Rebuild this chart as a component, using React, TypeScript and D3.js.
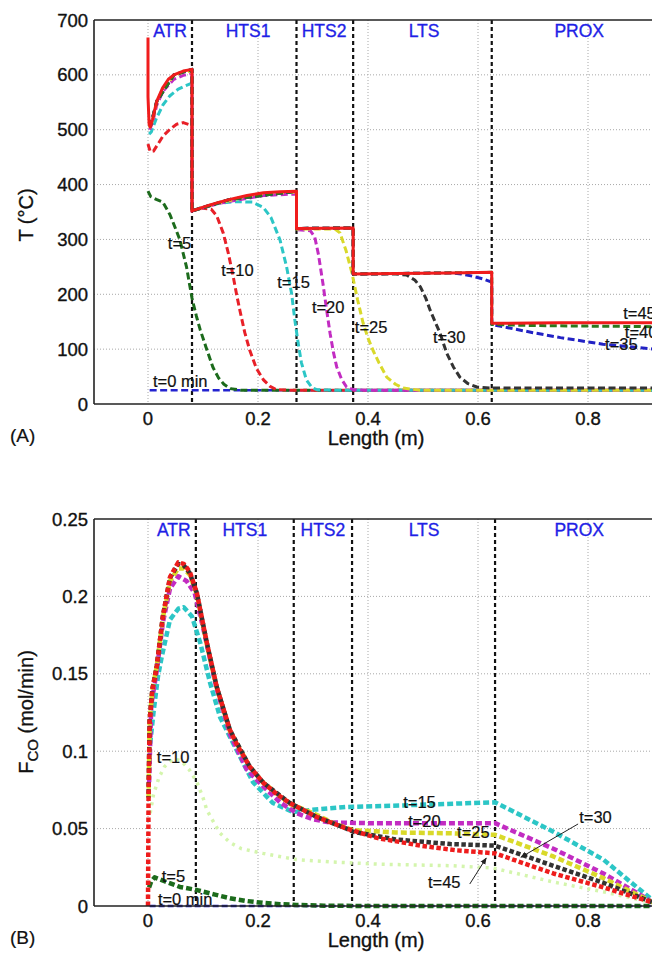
import React from "react";
import * as d3 from "d3";

type Pt = [number, number];

const W = 652;
const H = 954;
const FONT = "'Liberation Sans', Arial, Helvetica, sans-serif";

const xTicks = [0, 0.2, 0.4, 0.6, 0.8];
const xTickLabels = ["0", "0.2", "0.4", "0.6", "0.8"];
const tTicks = [0, 100, 200, 300, 400, 500, 600, 700];
const tTickLabels = ["0", "100", "200", "300", "400", "500", "600", "700"];
const fTicks = [0, 0.05, 0.1, 0.15, 0.2, 0.25];
const fTickLabels = ["0", "0.05", "0.1", "0.15", "0.2", "0.25"];

const zones = ["ATR", "HTS1", "HTS2", "LTS", "PROX"];
const zoneCentersT = [0.04, 0.182, 0.32, 0.502, 0.784];
const zoneCentersF = [0.047, 0.176, 0.318, 0.502, 0.784];
const zoneBoundsT = [0.08, 0.27, 0.373, 0.625];
const zoneBoundsF = [0.087, 0.265, 0.371, 0.631];

// ---------- Temperature profiles (°C) ----------
const T0: Pt[] = [[0.003, 25], [0.92, 25]];
const T5: Pt[] = [[0, 388], [0.005, 378], [0.015, 373], [0.027, 368], [0.04, 345], [0.05, 320], [0.058, 299], [0.07, 250], [0.08, 193], [0.088, 160], [0.095, 135], [0.105, 105], [0.118, 67], [0.128, 48], [0.138, 36], [0.15, 28], [0.17, 25], [0.92, 25]];
const T10: Pt[] = [[0, 474], [0.004, 460], [0.01, 461], [0.027, 488], [0.04, 501], [0.052, 510], [0.064, 513], [0.076, 509], [0.08, 508], [0.08, 352], [0.1, 357], [0.115, 355], [0.125, 343], [0.137, 311], [0.146, 275], [0.155, 232], [0.161, 200], [0.167, 171], [0.176, 130], [0.185, 98], [0.197, 65], [0.21, 44], [0.222, 32], [0.234, 26], [0.26, 25], [0.92, 25]];
const T15: Pt[] = [[0.002, 492], [0.006, 496], [0.015, 520], [0.027, 545], [0.04, 562], [0.055, 574], [0.068, 580], [0.08, 585], [0.08, 352], [0.1, 359], [0.13, 366], [0.16, 369], [0.19, 368], [0.21, 358], [0.2236, 340], [0.24, 299], [0.252, 250], [0.261, 202], [0.267, 153], [0.273, 111], [0.279, 75], [0.288, 44], [0.298, 30], [0.307, 26], [0.35, 25], [0.92, 25]];
const T20: Pt[] = [[0.003, 500], [0.008, 512], [0.016, 545], [0.027, 570], [0.047, 592], [0.064, 599], [0.08, 603], [0.08, 352], [0.13, 366], [0.21, 380], [0.27, 383], [0.27, 318], [0.295, 316], [0.303, 305], [0.31, 272], [0.318, 220], [0.325, 170], [0.331, 129], [0.337, 95], [0.343, 68], [0.352, 45], [0.361, 31], [0.373, 26], [0.4, 25], [0.92, 25]];
const T25: Pt[] = [[0.003, 503], [0.008, 516], [0.016, 550], [0.027, 575], [0.047, 598], [0.064, 605], [0.08, 607], [0.08, 352], [0.13, 367], [0.21, 384], [0.27, 386], [0.27, 319], [0.34, 319], [0.349, 312], [0.36, 280], [0.371, 238], [0.381, 190], [0.391, 148], [0.4, 120], [0.409, 98], [0.42, 75], [0.434, 49], [0.45, 36], [0.464, 29], [0.495, 25], [0.92, 25]];
const T30: Pt[] = [[0.004, 505], [0.016, 552], [0.047, 600], [0.08, 610], [0.08, 352], [0.149, 373], [0.27, 388], [0.27, 320], [0.373, 321], [0.373, 237], [0.45, 237], [0.47, 235], [0.485, 226], [0.495, 214], [0.505, 193], [0.513, 171], [0.522, 150], [0.531, 129], [0.543, 93], [0.555, 68], [0.567, 49], [0.582, 37], [0.598, 31], [0.625, 29], [0.92, 29]];
const T35: Pt[] = [[0.004, 505], [0.016, 552], [0.047, 600], [0.08, 610], [0.08, 352], [0.149, 373], [0.27, 388], [0.27, 320], [0.373, 321], [0.373, 237], [0.55, 239], [0.57, 237], [0.59, 233], [0.609, 228], [0.625, 222], [0.625, 145], [0.7, 130], [0.75, 121], [0.827, 109], [0.92, 100]];
const T40: Pt[] = [[0.004, 505], [0.016, 552], [0.047, 600], [0.08, 610], [0.08, 352], [0.149, 373], [0.27, 388], [0.27, 320], [0.373, 321], [0.373, 237], [0.625, 240], [0.625, 145], [0.7, 143], [0.8, 142], [0.92, 141]];
const T45: Pt[] = [[0, 668], [0, 560], [0.002, 510], [0.004, 505], [0.008, 518], [0.016, 552], [0.027, 577], [0.037, 592], [0.047, 600], [0.064, 607], [0.08, 610], [0.08, 352], [0.095, 357], [0.11, 362], [0.13, 368], [0.149, 373], [0.18, 380], [0.21, 385], [0.24, 387], [0.27, 388], [0.27, 320], [0.373, 321], [0.373, 237], [0.45, 238], [0.55, 239], [0.625, 240], [0.625, 147], [0.75, 148], [0.92, 148]];

// ---------- CO molar flow (mol/min) ----------
const F0: Pt[] = [[0.003, 0], [0.92, 0]];
const F5: Pt[] = [[0.002, 0.012], [0.006, 0.016], [0.012, 0.0185], [0.03, 0.016], [0.058, 0.0123], [0.089, 0.0103], [0.12, 0.0075], [0.149, 0.005], [0.18, 0.0032], [0.209, 0.002], [0.24, 0.0012], [0.27, 0.0007], [0.32, 0.0002], [0.4, 0], [0.92, 0]];
const F10: Pt[] = [[0.004, 0.06], [0.01, 0.072], [0.02, 0.083], [0.03, 0.09], [0.045, 0.095], [0.06, 0.094], [0.075, 0.088], [0.089, 0.08], [0.1, 0.07], [0.107, 0.062], [0.118, 0.055], [0.131, 0.047], [0.149, 0.041], [0.17, 0.037], [0.209, 0.034], [0.27, 0.03], [0.33, 0.0285], [0.42, 0.027], [0.555, 0.026], [0.628, 0.0245], [0.737, 0.0155], [0.83, 0.009], [0.92, 0.002]];
const F15: Pt[] = [[0.004, 0.105], [0.01, 0.125], [0.018, 0.148], [0.025, 0.161], [0.04, 0.185], [0.055, 0.192], [0.065, 0.193], [0.08, 0.187], [0.095, 0.17], [0.113, 0.144], [0.131, 0.122], [0.155, 0.105], [0.191, 0.08], [0.227, 0.0665], [0.264, 0.0607], [0.295, 0.062], [0.361, 0.064], [0.464, 0.065], [0.631, 0.067], [0.737, 0.048], [0.828, 0.03], [0.92, 0.003]];
const F20: Pt[] = [[0.002, 0.08], [0.006, 0.13], [0.016, 0.152], [0.027, 0.183], [0.04, 0.205], [0.055, 0.213], [0.07, 0.21], [0.085, 0.202], [0.1, 0.18], [0.125, 0.14], [0.149, 0.111], [0.18, 0.088], [0.21, 0.077], [0.24, 0.067], [0.27, 0.06], [0.3, 0.056], [0.33, 0.054], [0.4, 0.0535], [0.631, 0.0535], [0.737, 0.037], [0.828, 0.021], [0.92, 0.002]];
const F25: Pt[] = [[0.001, 0.07], [0.003, 0.12], [0.008, 0.14], [0.016, 0.155], [0.027, 0.186], [0.04, 0.21], [0.055, 0.218], [0.065, 0.218], [0.076, 0.214], [0.089, 0.201], [0.107, 0.169], [0.125, 0.141], [0.149, 0.113], [0.185, 0.09], [0.21, 0.0795], [0.258, 0.066], [0.3, 0.06], [0.34, 0.053], [0.373, 0.049], [0.45, 0.0475], [0.55, 0.047], [0.631, 0.046], [0.737, 0.032], [0.828, 0.018], [0.92, 0.002]];
const F30: Pt[] = [[0.001, 0.07], [0.003, 0.12], [0.008, 0.14], [0.016, 0.155], [0.027, 0.187], [0.04, 0.212], [0.055, 0.221], [0.065, 0.22], [0.076, 0.215], [0.089, 0.202], [0.107, 0.17], [0.125, 0.1415], [0.149, 0.1137], [0.185, 0.09], [0.21, 0.0795], [0.258, 0.0665], [0.307, 0.0575], [0.361, 0.05], [0.373, 0.048], [0.45, 0.043], [0.55, 0.04], [0.631, 0.039], [0.737, 0.026], [0.828, 0.015], [0.92, 0.002]];
const F45: Pt[] = [[0, 0], [0.001, 0.07], [0.003, 0.12], [0.008, 0.14], [0.016, 0.155], [0.027, 0.187], [0.04, 0.2125], [0.055, 0.222], [0.065, 0.221], [0.076, 0.216], [0.089, 0.202], [0.098, 0.186], [0.107, 0.17], [0.125, 0.1415], [0.149, 0.1137], [0.162, 0.104], [0.185, 0.09], [0.21, 0.0795], [0.235, 0.072], [0.258, 0.0665], [0.307, 0.0575], [0.361, 0.05], [0.416, 0.044], [0.495, 0.039], [0.56, 0.036], [0.631, 0.034], [0.737, 0.021], [0.828, 0.012], [0.92, 0.002]];

// ---------- annotations (data coordinates) ----------
const tLabelsT: { text: string; x: number; y: number }[] = [
  { text: "t=5", x: 0.036, y: 283 },
  { text: "t=10", x: 0.133, y: 233 },
  { text: "t=15", x: 0.235, y: 211 },
  { text: "t=20", x: 0.298, y: 166 },
  { text: "t=25", x: 0.376, y: 130 },
  { text: "t=30", x: 0.518, y: 111 },
  { text: "t=45", x: 0.864, y: 155 },
  { text: "t=40", x: 0.867, y: 120 },
  { text: "t=35", x: 0.831, y: 98 },
  { text: "t=0 min", x: 0.009, y: 31 },
];
const tLabelsF: { text: string; x: number; y: number }[] = [
  { text: "t=10", x: 0.016, y: 0.0924 },
  { text: "t=5", x: 0.025, y: 0.0155 },
  { text: "t=0 min", x: 0.018, y: 0.0006 },
  { text: "t=15", x: 0.464, y: 0.0633 },
  { text: "t=20", x: 0.473, y: 0.051 },
  { text: "t=25", x: 0.562, y: 0.0439 },
  { text: "t=30", x: 0.784, y: 0.0536 },
  { text: "t=45", x: 0.509, y: 0.0116 },
];
const arrowsF: { from: Pt; to: Pt }[] = [
  { from: [0.782, 0.053], to: [0.678, 0.0315] },
  { from: [0.585, 0.0142], to: [0.615, 0.031] },
];

type Series = { data: Pt[]; color: string; width: number; dash?: string; offset?: number };

const seriesT: Series[] = [
  { data: T0, color: "#2323d0", width: 2.6, dash: "7,3.5" },
  { data: T5, color: "#1c6b1c", width: 3, dash: "7,3.5" },
  { data: T10, color: "#e82028", width: 3, dash: "7,3.5" },
  { data: T15, color: "#2cc6c6", width: 3, dash: "7,3.5" },
  { data: T20, color: "#c22cc2", width: 3, dash: "7,3.5" },
  { data: T25, color: "#d9d92a", width: 3, dash: "7,3.5" },
  { data: T30, color: "#333333", width: 3, dash: "7,3.5" },
  { data: T35, color: "#2222c4", width: 3, dash: "7,3.5" },
  { data: T40, color: "#2b7a1c", width: 3, dash: "7,3.5" },
  { data: T45, color: "#f01c1c", width: 3 },
];
const seriesF: Series[] = [
  { data: F0, color: "#2323c0", width: 2.5, dash: "6,3" },
  { data: F5, color: "#1c6b1c", width: 4.5, dash: "6,3" },
  { data: F10, color: "#d4f5ad", width: 3.5, dash: "3,5" },
  { data: F15, color: "#2cc6c6", width: 4.5, dash: "6,3" },
  { data: F20, color: "#c22cc2", width: 4.5, dash: "6,3" },
  { data: F25, color: "#d9d92a", width: 4.5, dash: "6,3" },
  { data: F30, color: "#333333", width: 4.5, dash: "4.5,2.5", offset: 3 },
  { data: F45, color: "#ee1c1c", width: 4.5, dash: "4.5,2.5" },
];

const x = d3.scaleLinear().domain([-0.1, 1.0]).range([93, 698]);

const TXT = { fontFamily: FONT, fill: "#111", stroke: "#111", strokeWidth: 0.35 } as const;

function Panel(props: {
  y: d3.ScaleLinear<number, number>;
  ticks: number[];
  tickLabels: string[];
  series: Series[];
  bounds: number[];
  zoneCenters: number[];
  labels: { text: string; x: number; y: number }[];
  arrows: { from: Pt; to: Pt }[];
  title: React.ReactNode;
  titleY: number;
  tag: string;
}) {
  const { y } = props;
  const [y0, y1] = y.range();
  const top = Math.min(y0, y1);
  const bottom = Math.max(y0, y1);
  const left = 94;
  const line = d3.line<Pt>().x((d) => x(d[0])).y((d) => y(d[1]));
  return (
    <g>
      {props.ticks.slice(1, -1).map((t) => (
        <line key={"gy" + t} x1={left} x2={W} y1={y(t)} y2={y(t)} stroke="#a8a8a8" strokeWidth={1} strokeDasharray="1,2" />
      ))}
      {xTicks.map((t) => (
        <line key={"gx" + t} x1={x(t)} x2={x(t)} y1={top} y2={bottom} stroke="#a8a8a8" strokeWidth={1} strokeDasharray="1,2" />
      ))}
      {props.bounds.map((b) => (
        <line key={"b" + b} x1={x(b)} x2={x(b)} y1={top} y2={bottom} stroke="#111" strokeWidth={2.2} strokeDasharray="4,3" />
      ))}
      {props.series.map((s, i) => (
        <path key={"s" + i} d={line(s.data) || ""} fill="none" stroke={s.color} strokeWidth={s.width}
          strokeDasharray={s.dash} strokeDashoffset={s.offset || 0} strokeLinejoin="round" />
      ))}
      <line x1={left} x2={W} y1={top} y2={top} stroke="#222" strokeWidth={1.6} />
      <line x1={left} x2={W} y1={bottom} y2={bottom} stroke="#222" strokeWidth={1.6} />
      <line x1={left} x2={left} y1={top} y2={bottom} stroke="#222" strokeWidth={1.6} />
      {zones.map((z, i) => (
        <text key={z} x={x(props.zoneCenters[i])} y={top + 17} textAnchor="middle" fill="#1f1fe6" stroke="#1f1fe6" strokeWidth={0.35} fontSize={17.5} fontFamily={FONT}>{z}</text>
      ))}
      {props.ticks.map((t, i) => (
        <text key={"ty" + t} x={88} y={y(t) + 6.5} textAnchor="end" fontSize={18.5} {...TXT}>{props.tickLabels[i]}</text>
      ))}
      {xTicks.map((t, i) => (
        <text key={"tx" + t} x={x(t)} y={bottom + 21} textAnchor="middle" fontSize={18.5} {...TXT}>{xTickLabels[i]}</text>
      ))}
      {props.labels.map((l) => (
        <text key={l.text} x={x(l.x)} y={y(l.y)} fontSize={16.5} {...TXT} strokeWidth={0.2}>{l.text}</text>
      ))}
      {props.arrows.map((a, i) => (
        <line key={"a" + i} x1={x(a.from[0])} y1={y(a.from[1])} x2={x(a.to[0])} y2={y(a.to[1])} stroke="#222" strokeWidth={1} markerEnd="url(#arrowhead)" />
      ))}
      <text x={376} y={bottom + 41} textAnchor="middle" fontSize={20} {...TXT}>Length (m)</text>
      <text x={10} y={bottom + 38} fontSize={19} {...TXT} strokeWidth={0.2}>{props.tag}</text>
      <text transform={`translate(33,${props.titleY}) rotate(-90)`} textAnchor="middle" fontSize={20} {...TXT}>{props.title}</text>
    </g>
  );
}

export default function App() {
  const yT = d3.scaleLinear().domain([0, 700]).range([404, 20]);
  const yF = d3.scaleLinear().domain([0, 0.25]).range([906, 519]);
  return (
    <div style={{ position: "absolute", left: 0, top: 0 }}>
      <svg width={W} height={H} viewBox={`0 0 ${W} ${H}`} style={{ display: "block", background: "#fff" }}>
        <defs>
          <marker id="arrowhead" viewBox="0 0 10 10" refX={9} refY={5} markerWidth={7} markerHeight={7} orient="auto-start-reverse">
            <path d="M0,1 L10,5 L0,9 z" fill="#222" />
          </marker>
        </defs>
        <rect x={0} y={0} width={W} height={H} fill="#fff" />
        <Panel y={yT} ticks={tTicks} tickLabels={tTickLabels} series={seriesT} bounds={zoneBoundsT}
          zoneCenters={zoneCentersT} labels={tLabelsT} arrows={[]} title={"T (°C)"} titleY={215} tag="(A)" />
        <Panel y={yF} ticks={fTicks} tickLabels={fTickLabels} series={seriesF} bounds={zoneBoundsF}
          zoneCenters={zoneCentersF} labels={tLabelsF} arrows={arrowsF}
          title={<>F<tspan fontSize={15} dy={5}>CO</tspan><tspan dy={-5}> (mol/min)</tspan></>} titleY={712} tag="(B)" />
      </svg>
    </div>
  );
}
